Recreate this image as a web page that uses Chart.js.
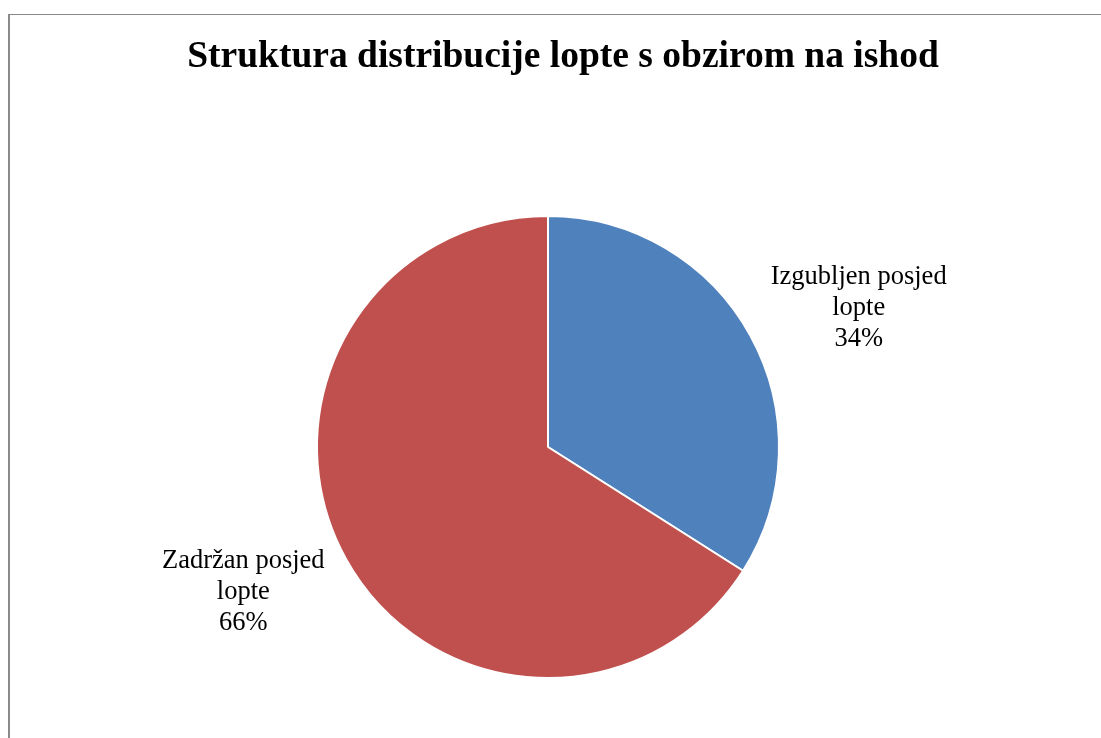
<!DOCTYPE html>
<html lang="hr">
<head>
  <meta charset="UTF-8" />
  <title>Struktura distribucije lopte s obzirom na ishod</title>
  <style>
    body { margin: 0; background: #fff; overflow: hidden; }
    #frame {
      position: absolute;
      left: 8px; top: 14px;
      width: 1108px; height: 724px;
      box-sizing: border-box;
      border-left: 2px solid #8a8a8a;
      border-top: 1px solid #8a8a8a;
    }
    #frame canvas { display: block; }
  </style>
</head>
<body>

<div id="frame"><canvas id="pie" width="1106" height="723"></canvas></div>

<script src="https://cdn.jsdelivr.net/npm/chart.js@4.4.3"></script>
<script>
  // podaci
  const chartTitle = 'Struktura distribucije lopte s obzirom na ishod';
  const categories = [['Izgubljen posjed', 'lopte'], ['Zadržan posjed', 'lopte']];
  const shares = [34, 66];
  const sliceColors = ['#4F81BD', '#C0504D'];

  const serif = '"Liberation Serif", "Times New Roman", serif';

  // naslov centriran na cijeloj širini okvira (ne na području kruga)
  const frameTitle = {
    id: 'frameTitle',
    afterDraw(chart) {
      const ctx = chart.ctx;
      ctx.save();
      ctx.font = 'bold 37.5px ' + serif;
      ctx.fillStyle = '#000';
      ctx.textAlign = 'center';
      ctx.textBaseline = 'middle';
      ctx.fillText(chartTitle, chart.width / 2, 42);
      ctx.restore();
    }
  };

  // oznake izvan kruga (ime + postotak)
  const outsideLabels = {
    id: 'outsideLabels',
    afterDatasetsDraw(chart) {
      const ctx = chart.ctx;
      const arcs = chart.getDatasetMeta(0).data;
      ctx.save();
      ctx.font = '26.5px ' + serif;
      ctx.fillStyle = '#000';
      ctx.textAlign = 'center';
      ctx.textBaseline = 'middle';
      arcs.forEach((arc, i) => {
        const mid = (arc.startAngle + arc.endAngle) / 2;
        const r = arc.outerRadius;
        const x = arc.x + Math.cos(mid) * r * 1.52 + 3;
        const y = arc.y + Math.sin(mid) * r * 1.28 + 3;
        const lines = categories[i].concat(shares[i] + '%');
        const lh = 31;
        lines.forEach((t, k) => {
          ctx.fillText(t, x, y + (k - (lines.length - 1) / 2) * lh);
        });
      });
      ctx.restore();
    }
  };

  new Chart(document.getElementById('pie'), {
    type: 'pie',
    data: {
      labels: categories.map(c => c.join(' ')),
      datasets: [{
        data: shares,
        backgroundColor: sliceColors,
        borderColor: '#ffffff',
        borderWidth: 2,
        radius: 231,
        clip: false
      }]
    },
    options: {
      responsive: false,
      animation: false,
      layout: { padding: { left: 0, right: 30, top: 190, bottom: 49 } },
      plugins: {
        legend: { display: false },
        tooltip: { enabled: false },
        title: { display: false }
      }
    },
    plugins: [outsideLabels, frameTitle]
  });
</script>
</body>
</html>
